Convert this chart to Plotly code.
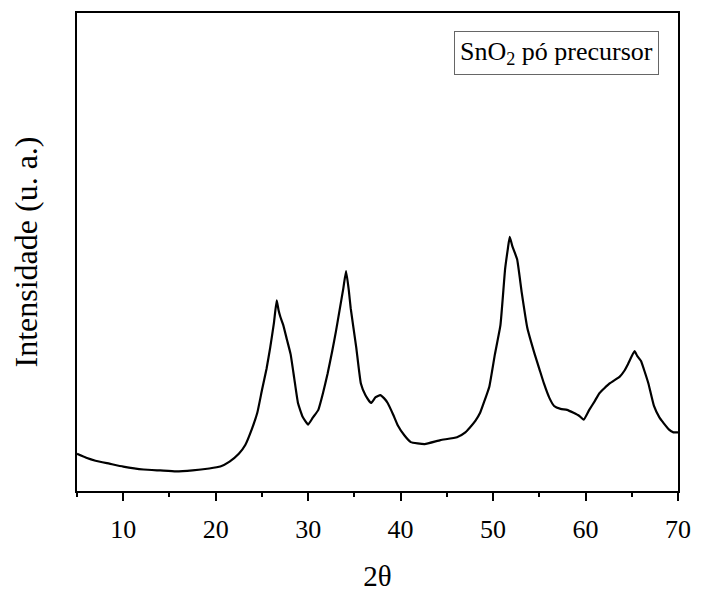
import plotly.graph_objects as go

two_theta = [5.0, 6.0, 7.0, 8.5, 10.0, 12.2, 14.0, 15.7, 17.5, 19.3, 20.5, 21.5, 22.5, 23.2, 23.9,
             24.5, 25.0, 25.5, 25.9, 26.3, 26.6, 26.8, 27.0, 27.3, 27.7, 28.1, 28.5, 28.9, 29.4,
             30.0, 30.5, 31.1, 31.6, 32.1, 32.6, 33.0, 33.4, 33.8, 34.1, 34.4, 34.6, 35.2, 35.7,
             36.2, 36.8, 37.3, 37.8, 38.2, 38.6, 39.2, 39.7, 40.4, 41.1, 42.6, 44.3, 46.1, 47.0,
             47.5, 48.1, 48.6, 49.1, 49.6, 50.2, 50.8, 51.3, 51.6, 51.8, 52.1, 52.6, 53.1, 53.7,
             54.5, 55.0, 55.5, 56.1, 56.6, 57.3, 58.0, 58.7, 59.3, 59.8, 60.4, 61.0, 61.5, 62.6,
             63.7, 64.2, 64.6, 65.3, 65.6, 66.0, 66.4, 66.8, 67.4, 68.0, 68.4, 69.0, 69.5, 70.0]
intensity = [38, 34, 31, 28, 25, 22, 21, 20, 21, 23, 25, 30, 38, 47, 63,
             80, 103, 125, 147, 172, 195, 185, 178, 170, 155, 140, 115, 90, 76,
             68, 75, 83, 100, 120, 143, 163, 185, 207, 225, 205, 187, 147, 110,
             98, 90, 96, 98, 95, 90, 78, 67, 57, 50, 48, 52, 55, 60,
             65, 72, 80, 93, 107, 140, 170, 227, 248, 260, 250, 237, 203, 167,
             140, 125, 110, 95, 87, 84, 83, 80, 77, 73, 83, 92, 100, 110,
             117, 123, 130, 143, 138, 133, 122, 110, 87, 75, 70, 63, 60, 60]
x_ticks = [10, 20, 30, 40, 50, 60, 70]
legend_label = "SnO<sub>2</sub> pó precursor"

FONT = "Liberation Serif, Times New Roman, serif"

fig = go.Figure()
fig.add_trace(go.Scatter(x=two_theta, y=intensity, mode="lines",
                         line=dict(color="black", width=2.2, shape="spline", smoothing=0.4),
                         showlegend=False))

fig.add_annotation(xref="paper", yref="paper", x=0.968, y=0.962, xanchor="right", yanchor="top",
                   text=legend_label, showarrow=False,
                   font=dict(family=FONT, size=26, color="black"),
                   bordercolor="#666666", borderwidth=1, borderpad=5, bgcolor="white")

fig.update_layout(
    width=702, height=598,
    margin=dict(l=77, r=19, t=11, b=98),
    paper_bgcolor="white", plot_bgcolor="white",
    font=dict(family=FONT, size=26, color="black"),
    xaxis=dict(range=[5, 70], tickvals=x_ticks, ticks="outside", ticklen=8, tickwidth=2,
               tickcolor="black", showline=True, linecolor="black", linewidth=2, mirror=True,
               showgrid=False, zeroline=False, ticklabelstandoff=6,
               minor=dict(dtick=5, tick0=5, ticks="outside", ticklen=4, tickwidth=2, tickcolor="black", showgrid=False),
               title=dict(text="2θ", font=dict(size=29), standoff=22)),
    yaxis=dict(range=[0, 489], showticklabels=False, ticks="", showline=True, linecolor="black",
               linewidth=2, mirror=True, showgrid=False, zeroline=False,
               title=dict(text="Intensidade (u. a.)", font=dict(size=32), standoff=28)),
)

fig.write_html("out.html")
